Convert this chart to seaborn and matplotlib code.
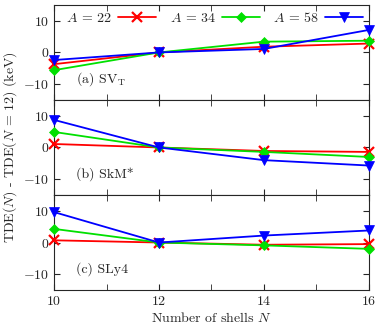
import numpy as np
import pandas as pd
import matplotlib
matplotlib.use("Agg")
import matplotlib.pyplot as plt
import seaborn as sns

# shell numbers and TDE differences (keV) relative to N = 12
shells = [10, 12, 14, 16]
nuclei = [22, 34, 58]
forces = ["SV_T", "SkM*", "SLy4"]
panel_labels = [r"(a) SV$_{\mathrm{T}}$", "(b) SkM*", "(c) SLy4"]

svt_22 = [-3.7, 0.0, 1.8, 2.8]
svt_34 = [-5.6, 0.0, 3.4, 3.7]
svt_58 = [-2.4, 0.0, 1.1, 7.1]

skm_22 = [1.1, 0.0, -1.1, -1.4]
skm_34 = [4.9, 0.0, -1.4, -3.0]
skm_58 = [8.7, 0.0, -4.0, -5.7]

sly_22 = [0.7, 0.0, -0.7, -0.5]
sly_34 = [4.3, 0.0, -0.9, -2.0]
sly_58 = [9.6, 0.0, 2.2, 3.8]

values = {
    "SV_T": [svt_22, svt_34, svt_58],
    "SkM*": [skm_22, skm_34, skm_58],
    "SLy4": [sly_22, sly_34, sly_58],
}

rows = []
for force in forces:
    for a, series in zip(nuclei, values[force]):
        for n, v in zip(shells, series):
            rows.append({"force": force, "N": n, "A": a, "TDE": v})
df = pd.DataFrame(rows)

sns.set_style("ticks")
plt.rcParams["font.family"] = "serif"
plt.rcParams["font.serif"] = ["cmr10", "DejaVu Serif"]
plt.rcParams["mathtext.fontset"] = "cm"
plt.rcParams["axes.unicode_minus"] = False
plt.rcParams["axes.formatter.use_mathtext"] = True

palette = ["#ff0000", "#00e000", "#0000ff"]
markers = ["x", "D", "v"]
sizes = [7.5, 5, 6.5]

fig, axes = plt.subplots(3, 1, figsize=(3.92, 3.27), dpi=100, sharex=True)
fig.subplots_adjust(left=0.138, right=0.941, top=0.985, bottom=0.113, hspace=0)

for i, (ax, force) in enumerate(zip(axes, forces)):
    sub = df[df["force"] == force]
    for j, a in enumerate(nuclei):
        d = sub[sub["A"] == a]
        sns.lineplot(data=d, x="N", y="TDE", ax=ax, color=palette[j],
                     marker=markers[j], markersize=sizes[j],
                     markeredgewidth=1.6 if j == 0 else 0.5,
                     markeredgecolor=palette[j], linewidth=1.3, clip_on=False,
                     label=f"$A$ = {a}", legend=False, zorder=3 + j)
    ax.set_xlim(10, 16)
    ax.set_ylim(-15, 15)
    ax.set_yticks([-10, 0, 10])
    ax.set_xticks([10, 12, 14, 16])
    ax.set_xticks([11, 13, 15], minor=True)
    ax.tick_params(direction="in", top=True, right=True, which="both", labelsize=10, length=4)
    ax.set_xlabel("")
    ax.set_ylabel("")
    ax.text(0.07, 0.18, panel_labels[i], transform=ax.transAxes, fontsize=10)
    for s in ax.spines.values():
        s.set_linewidth(0.8)

handles, labels = axes[0].get_legend_handles_labels()
axes[0].legend(handles, labels, ncol=3, loc="upper center", frameon=False,
               markerfirst=False, fontsize=10, handlelength=2.7, columnspacing=1.0,
               handletextpad=0.45, borderaxespad=0.05, bbox_to_anchor=(0.51, 1.0))

axes[2].set_xlabel("Number of shells $N$", fontsize=10, labelpad=2)
fig.text(0.025, 0.55, r"TDE($N$) - TDE($N$ = 12) (keV)", rotation=90,
         va="center", ha="center", fontsize=10)

fig.savefig("out.png", dpi=100)
